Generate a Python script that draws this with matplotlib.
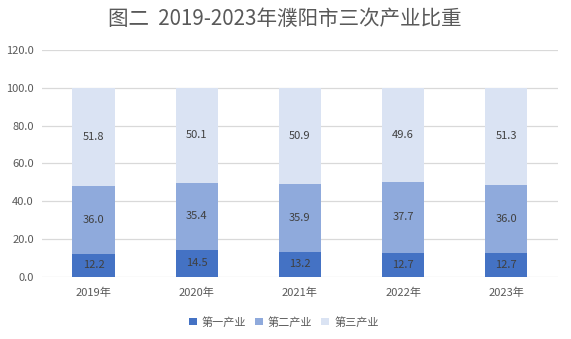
import matplotlib
matplotlib.use("Agg")
import matplotlib.pyplot as plt
import numpy as np

plt.rcParams['font.family'] = ['Noto Sans CJK SC', 'DejaVu Sans']

years = ["2019年", "2020年", "2021年", "2022年", "2023年"]
primary = [12.2, 14.5, 13.2, 12.7, 12.7]
secondary = [36.0, 35.4, 35.9, 37.7, 36.0]
tertiary = [51.8, 50.1, 50.9, 49.6, 51.3]
series_names = ["第一产业", "第二产业", "第三产业"]
colors = ["#4472C4", "#8FAADC", "#DAE3F3"]

fig = plt.figure(figsize=(5.71, 3.39), dpi=100)
ax = fig.add_axes([0.0736, 0.183, 0.9034, 0.6695])

x = np.arange(len(years))
width = 0.41
bottom = np.zeros(len(years))
for vals, name, c in zip([primary, secondary, tertiary], series_names, colors):
    ax.bar(x, vals, width, bottom=bottom, color=c, label=name, zorder=3)
    for xi, b, v in zip(x, bottom, vals):
        ax.text(xi, b + v / 2, f"{v:.1f}", ha="center", va="center",
                fontsize=8, color="#404040", zorder=4)
    bottom = bottom + np.array(vals)

ax.set_xlim(-0.5, len(years) - 0.5)
ax.set_ylim(0, 120)
ax.set_yticks(np.arange(0, 121, 20))
ax.set_yticklabels([f"{v:.1f}" for v in np.arange(0, 121, 20)])
ax.set_xticks(x)
ax.set_xticklabels(years)
ax.tick_params(axis="both", length=0, labelsize=8, colors="#595959")
ax.tick_params(axis="x", pad=8)
ax.tick_params(axis="y", pad=6)
for s in ax.spines.values():
    s.set_visible(False)
ax.yaxis.grid(True, color="#D9D9D9", linewidth=0.9, zorder=0)
ax.set_axisbelow(True)

fig.text(0.498, 0.945, "图二  2019-2023年濮阳市三次产业比重", ha="center", va="center",
         fontsize=14.8, color="#595959")

fig.legend(loc="center", bbox_to_anchor=(0.497, 0.05), ncol=3, frameon=False,
           fontsize=8, labelcolor="#595959", handlelength=0.7, handleheight=0.7,
           handletextpad=0.45, columnspacing=0.8)

fig.savefig("out.png", dpi=100)
